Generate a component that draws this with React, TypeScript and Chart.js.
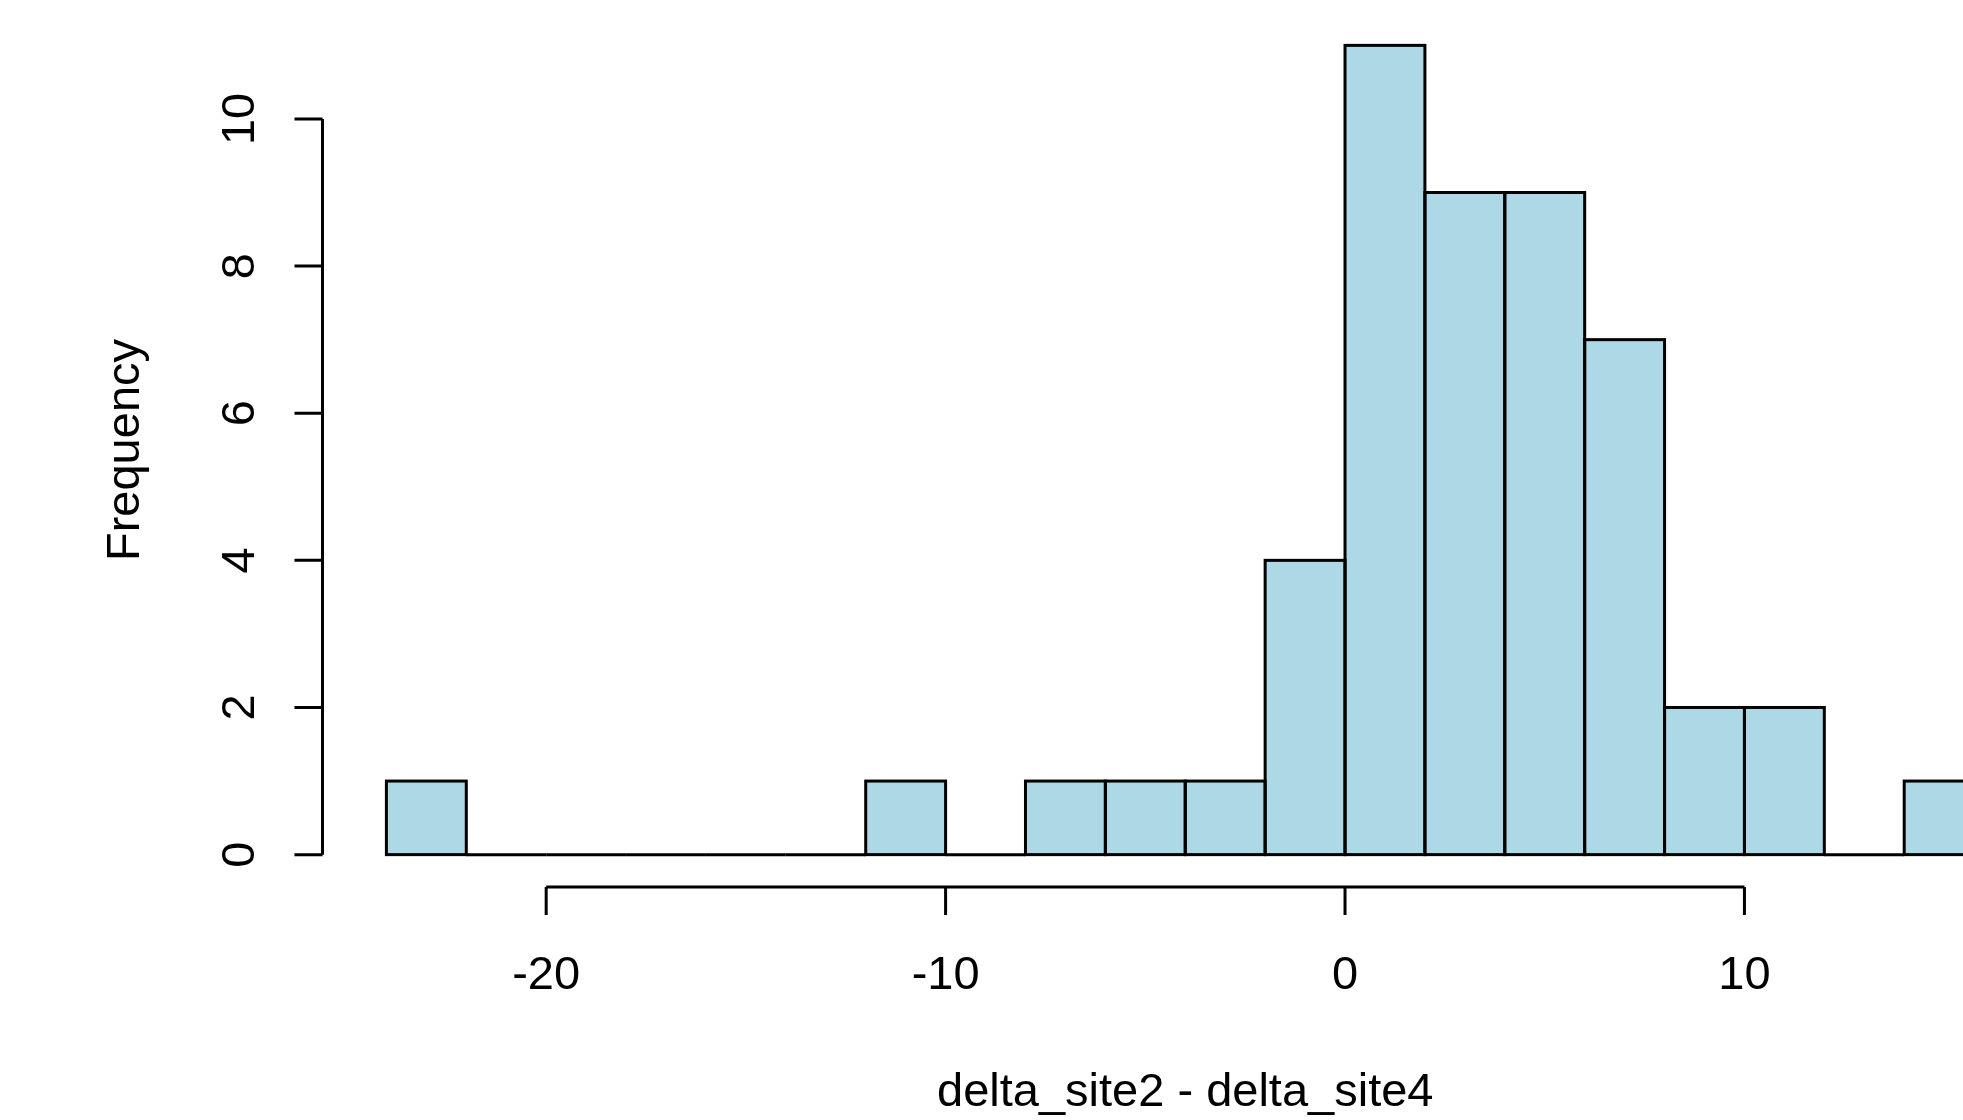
import React, { useEffect, useRef } from "react";
import { Chart, registerables } from "chart.js";

Chart.register(...registerables);

// Histogram bins (left edges, width 2) and their counts
const binStarts = [-24, -22, -20, -18, -16, -14, -12, -10, -8, -6, -4, -2, 0, 2, 4, 6, 8, 10, 12, 14];
const binWidth = 2;
const counts = [1, 0, 0, 0, 0, 0, 1, 0, 1, 1, 1, 4, 11, 9, 9, 7, 2, 2, 0, 1];

const xTicks = [-20, -10, 0, 10];
const yTicks = [0, 2, 4, 6, 8, 10];
const xTitle = "delta_site2 - delta_site4";
const yTitle = "Frequency";

const CANVAS_W = 2100;
const CANVAS_H = 1120;
const FONT = '47px "Liberation Sans", Arial, sans-serif';

const rAxesPlugin = {
  id: "rAxes",
  afterDatasetsDraw(chart: any) {
    const ctx = chart.ctx;
    const meta = chart.getDatasetMeta(0);
    ctx.save();
    ctx.strokeStyle = "#000";
    ctx.lineWidth = 3;
    for (const el of meta.data) {
      const w = el.width;
      ctx.strokeRect(el.x - w / 2, el.y, w, el.base - el.y);
    }
    ctx.restore();
  },
  afterDraw(chart: any) {
    const ctx = chart.ctx;
    const xs = chart.scales.x;
    const ys = chart.scales.y;
    const area = chart.chartArea;
    ctx.save();
    ctx.strokeStyle = "#000";
    ctx.fillStyle = "#000";
    ctx.lineWidth = 3;
    ctx.font = FONT;

    // x axis (R style, at plot-region bottom)
    const xAxisY = area.bottom;
    const tickLen = 28;
    ctx.beginPath();
    ctx.moveTo(xs.getPixelForValue(xTicks[0]), xAxisY);
    ctx.lineTo(xs.getPixelForValue(xTicks[xTicks.length - 1]), xAxisY);
    for (const t of xTicks) {
      const px = xs.getPixelForValue(t);
      ctx.moveTo(px, xAxisY);
      ctx.lineTo(px, xAxisY + tickLen);
    }
    ctx.stroke();
    ctx.textAlign = "center";
    ctx.textBaseline = "alphabetic";
    for (const t of xTicks) {
      const px = xs.getPixelForValue(t);
      ctx.fillText(String(t), px, 989);
    }

    // y axis at plot left
    const yAxisX = area.left;
    ctx.beginPath();
    ctx.moveTo(yAxisX, ys.getPixelForValue(yTicks[0]));
    ctx.lineTo(yAxisX, ys.getPixelForValue(yTicks[yTicks.length - 1]));
    for (const t of yTicks) {
      const py = ys.getPixelForValue(t);
      ctx.moveTo(yAxisX, py);
      ctx.lineTo(yAxisX - tickLen, py);
    }
    ctx.stroke();
    for (const t of yTicks) {
      const py = ys.getPixelForValue(t);
      ctx.save();
      ctx.translate(254, py);
      ctx.rotate(-Math.PI / 2);
      ctx.textAlign = "center";
      ctx.fillText(String(t), 0, 0);
      ctx.restore();
    }

    // titles
    ctx.textAlign = "center";
    ctx.fillText(xTitle, (area.left + area.right) / 2, 1106);
    ctx.save();
    ctx.translate(139, (area.top + area.bottom) / 2);
    ctx.rotate(-Math.PI / 2);
    ctx.fillText(yTitle, 0, 0);
    ctx.restore();

    ctx.restore();
  },
};

export default function App() {
  const ref = useRef<HTMLCanvasElement | null>(null);
  useEffect(() => {
    if (!ref.current) return;
    const data = binStarts.map((s, i) => ({ x: s + binWidth / 2, y: counts[i] }));
    const chart = new Chart(ref.current, {
      type: "bar",
      data: {
        datasets: [
          {
            data,
            backgroundColor: "#ADD8E6",
            borderWidth: 0,
            barPercentage: 1,
            categoryPercentage: 1,
            inflateAmount: 0,
          } as any,
        ],
      },
      options: {
        responsive: false,
        animation: false,
        devicePixelRatio: 1,
        layout: { padding: { left: 322.5, top: 13, right: CANVAS_W - 2048, bottom: CANVAS_H - 887 } },
        plugins: { legend: { display: false }, tooltip: { enabled: false } },
        scales: {
          x: { type: "linear", min: -25.6, max: 17.6, offset: false, display: false },
          y: { type: "linear", min: -0.44, max: 11.44, display: false },
        },
      },
      plugins: [rAxesPlugin],
    });
    return () => chart.destroy();
  }, []);
  return (
    <div
      style={{
        position: "fixed",
        left: 0,
        top: 0,
        width: 1963,
        height: 1120,
        overflow: "hidden",
        background: "#fff",
      }}
    >
      <canvas ref={ref} width={CANVAS_W} height={CANVAS_H} style={{ width: CANVAS_W, height: CANVAS_H, display: "block" }} />
    </div>
  );
}
